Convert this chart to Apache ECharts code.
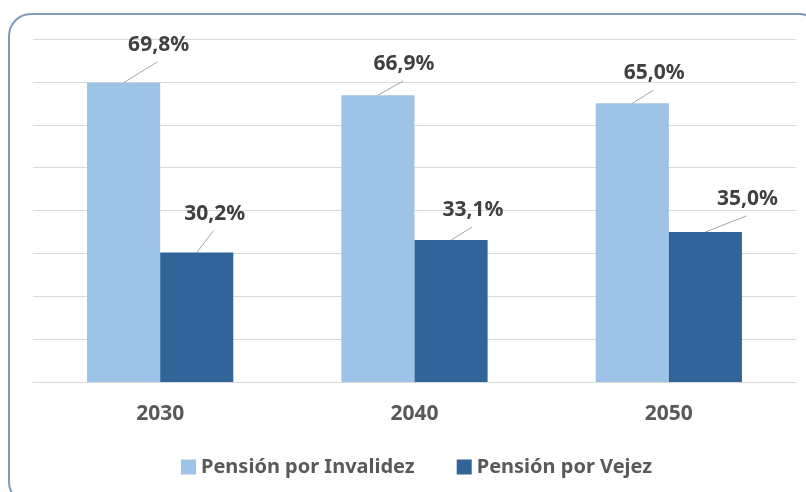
<!DOCTYPE html>
<html>
<head>
<meta charset="utf-8">
<script src="https://cdn.jsdelivr.net/npm/echarts@6/dist/echarts.min.js"></script>
<style>html,body{margin:0;padding:0;background:#fff;}#c{width:806px;height:492px;}</style>
</head>
<body>
<div id="c"></div>
<script>
const categories = ['2030', '2040', '2050'];
const seriesNames = ['Pensión por Invalidez', 'Pensión por Vejez'];
const invalidez = [69.8, 66.9, 65.0];
const vejez = [30.2, 33.1, 35.0];

// label offsets from bar-top centre to label centre (style only)
const labelOffsets = [
  [[35, -38], [26, -31], [22, -30]],
  [[18, -39], [22, -30], [42, -33]]
];
const CAT_GAP = 0.425;

const fmt = v => v.toFixed(1).replace('.', ',') + '%';
const font = '"Noto Sans", "DejaVu Sans", sans-serif';

const chart = echarts.init(document.getElementById('c'), null, {renderer: 'canvas'});

function mkBar(name, data, color) {
  return {
    name: name,
    type: 'bar',
    data: data,
    barGap: '0%',
    barCategoryGap: (CAT_GAP * 100) + '%',
    itemStyle: {color: color}
  };
}

function mkLabels(data, si) {
  return {
    type: 'custom',
    silent: true,
    z: 5,
    data: data.map((v, i) => [i, v]),
    encode: {x: 0, y: 1},
    renderItem: function (params, api) {
      const i = api.value(0);
      const v = api.value(1);
      const c = api.coord([i, v]);
      const band = api.size([1, 0])[0];
      const barW = band * (1 - CAT_GAP) / 2;
      const x = c[0] + (si === 0 ? -barW / 2 : barW / 2);
      const y = c[1];
      const o = labelOffsets[si][i];
      const lx = x + o[0], ly = y + o[1];
      return {
        type: 'group',
        children: [{
          type: 'line',
          shape: {x1: x, y1: y, x2: lx - 1, y2: ly + 17},
          style: {stroke: '#a6a6a6', lineWidth: 1}
        }, {
          type: 'text',
          style: {
            x: lx, y: ly,
            text: fmt(v),
            align: 'center',
            verticalAlign: 'middle',
            font: 'bold 21px ' + font,
            fill: '#404040'
          }
        }]
      };
    }
  };
}

chart.setOption({
  animation: false,
  backgroundColor: '#ffffff',
  graphic: [{
    type: 'rect',
    shape: {x: 9, y: 14, width: 812, height: 490, r: 22},
    style: {fill: 'none', stroke: '#7f9bb8', lineWidth: 2},
    silent: true,
    z: -1
  }],
  grid: {left: 33, right: 10, top: 39, bottom: 110, containLabel: false},
  xAxis: {
    type: 'category',
    data: categories,
    axisTick: {show: false},
    axisLine: {lineStyle: {color: '#d9d9d9', width: 1}},
    axisLabel: {
      margin: 22,
      fontFamily: font,
      fontWeight: 'bold',
      fontSize: 21,
      color: '#595959'
    }
  },
  yAxis: {
    type: 'value',
    min: 0,
    max: 80,
    interval: 10,
    axisLabel: {show: false},
    axisLine: {show: false},
    axisTick: {show: false},
    splitLine: {lineStyle: {color: '#d9d9d9', width: 1}}
  },
  legend: {
    data: seriesNames,
    left: 176,
    top: 452,
    itemWidth: 15,
    itemHeight: 15,
    itemGap: 42,
    icon: 'rect',
    textStyle: {
      fontFamily: font,
      fontWeight: 'bold',
      fontSize: 20,
      color: '#595959'
    }
  },
  series: [
    mkBar(seriesNames[0], invalidez, '#9dc3e6'),
    mkBar(seriesNames[1], vejez, '#31659a'),
    mkLabels(invalidez, 0),
    mkLabels(vejez, 1)
  ]
});
</script>
</body>
</html>
